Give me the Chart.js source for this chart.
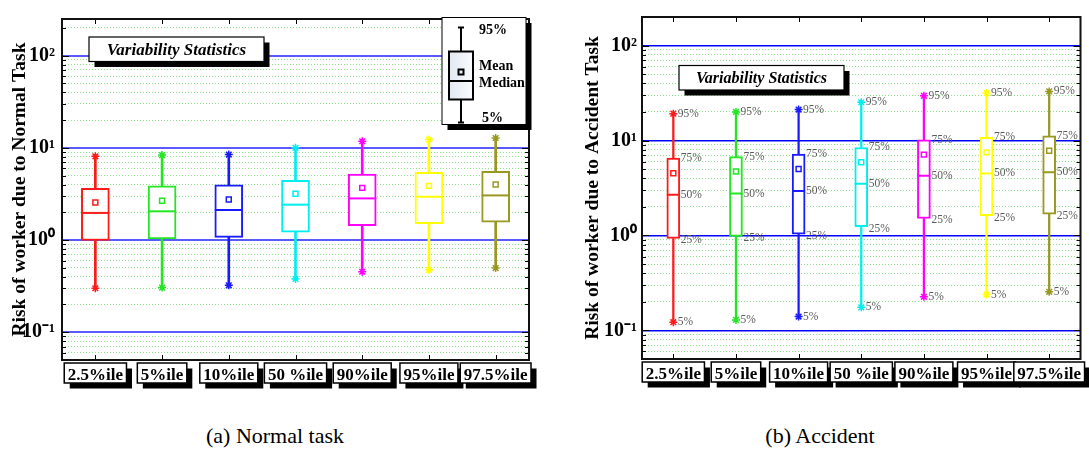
<!DOCTYPE html>
<html>
<head>
<meta charset="utf-8">
<script src="https://cdn.jsdelivr.net/npm/chart.js@4.4.1/dist/chart.umd.min.js"></script>
<style>
  html, body { margin: 0; padding: 0; background: #fff; }
  body { width: 1089px; height: 450px; position: relative; overflow: hidden; }
  .panel { position: absolute; top: 0; height: 400px; }
  .cap { position: absolute; top: 423px; font-family: "Liberation Serif", serif; font-size: 22px; color: #000; white-space: nowrap; transform: translateX(-50%); }
</style>
</head>
<body>
<div class="panel" style="left:0;width:545px"><canvas id="normalChart" width="545" height="400"></canvas></div>
<div class="panel" style="left:545px;width:544px"><canvas id="accidentChart" width="544" height="400"></canvas></div>
<div class="cap" style="left:275px">(a) Normal task</div>
<div class="cap" style="left:820px">(b) Accident</div>
<script>
// ---------- data ----------
const categories = ['2.5%ile', '5%ile', '10%ile', '50 %ile', '90%ile', '95%ile', '97.5%ile'];
const seriesColors = ['#ff1a1a', '#22e622', '#1a1aff', '#00eeee', '#ff00ff', '#ffff00', '#999922'];

// (a) Normal task
const normalP5     = [0.300, 0.305, 0.323, 0.378, 0.453, 0.476, 0.497];
const normalQ1     = [0.99, 1.03, 1.07, 1.22, 1.43, 1.51, 1.56];
const normalMedian = [1.97, 2.05, 2.12, 2.42, 2.83, 2.95, 3.05];
const normalMean   = [2.56, 2.67, 2.76, 3.18, 3.68, 3.87, 4.00];
const normalQ3     = [3.65, 3.87, 3.97, 4.45, 5.20, 5.43, 5.56];
const normalP95    = [8.1, 8.35, 8.47, 10.0, 11.8, 12.3, 12.8];

// (b) Accident
const accidentP5     = [0.122, 0.129, 0.140, 0.175, 0.226, 0.239, 0.255];
const accidentQ1     = [0.93, 0.98, 1.03, 1.24, 1.51, 1.62, 1.68];
const accidentMedian = [2.69, 2.76, 2.94, 3.50, 4.25, 4.50, 4.64];
const accidentMean   = [4.53, 4.72, 5.02, 5.90, 7.10, 7.50, 7.80];
const accidentQ3     = [6.54, 6.76, 7.20, 8.45, 10.2, 10.8, 11.2];
const accidentP95    = [19.2, 20.0, 21.2, 25.3, 29.6, 31.6, 32.9];

const yTickValues = [0.1, 1, 10, 100];
const yTickLabels = ['10\u207B\u00B9', '10\u2070', '10\u00B9', '10\u00B2'];
const annotationLabels = ['95%', '75%', '50%', '25%', '5%'];
const legendLabels = ['95%', 'Mean', 'Median', '5%'];
const boxTitle = 'Variability Statistics';

// ---------- helpers ----------
function isDecade(v) { const l = Math.log10(v); return Math.abs(l - Math.round(l)) < 1e-6; }
function mantissa(v) { return v / Math.pow(10, Math.floor(Math.log10(v) + 1e-9)); }
function line(ctx, x1, y1, x2, y2) { ctx.beginPath(); ctx.moveTo(x1, y1); ctx.lineTo(x2, y2); ctx.stroke(); }
function shadowBox(ctx, x, y, w, h, off, lw) {
  ctx.fillStyle = '#000'; ctx.fillRect(x + off, y + off, w, h);
  ctx.fillStyle = '#fff'; ctx.fillRect(x, y, w, h);
  ctx.strokeStyle = '#000'; ctx.lineWidth = lw; ctx.strokeRect(x, y, w, h);
}

function makeChart(id, d, cfg) {
  const datasets = [
    { type: 'bar', label: 'lower whisker', data: d.p5.map((v, i) => [v, d.q1[i]]),
      backgroundColor: seriesColors, borderWidth: 0, barThickness: cfg.whisker, grouped: false, order: 4 },
    { type: 'bar', label: 'upper whisker', data: d.q3.map((v, i) => [v, d.p95[i]]),
      backgroundColor: seriesColors, borderWidth: 0, barThickness: cfg.whisker, grouped: false, order: 4 },
    { type: 'bar', label: 'box', data: d.q1.map((v, i) => [v, d.q3[i]]),
      backgroundColor: '#ffffff', borderColor: seriesColors, borderWidth: 2, borderSkipped: false,
      barThickness: cfg.box, grouped: false, order: 3 },
    { type: 'line', label: 'median', data: d.median, showLine: false, pointStyle: 'line',
      pointRadius: cfg.box / 2, pointBorderColor: seriesColors, borderColor: seriesColors, pointBorderWidth: 2, order: 2 },
    { type: 'line', label: 'mean', data: d.mean, showLine: false, pointStyle: 'rect',
      pointRadius: 3.5, pointBorderColor: seriesColors, borderColor: seriesColors, pointBackgroundColor: '#ffffff', pointBorderWidth: 1.5, order: 1 },
    { type: 'line', label: '95%', data: d.p95, showLine: false, pointStyle: 'star',
      pointRadius: 4, pointBorderColor: seriesColors, borderColor: seriesColors, pointBorderWidth: 1.5, order: 0 },
    { type: 'line', label: '5%', data: d.p5, showLine: false, pointStyle: 'star',
      pointRadius: 4, pointBorderColor: seriesColors, borderColor: seriesColors, pointBorderWidth: 1.5, order: 0 }
  ];

  const decor = {
    id: 'decor',
    beforeDraw(chart) {
      const { ctx, chartArea: a, scales: { x: xs } } = chart;
      ctx.save();
      ctx.font = 'bold 17px "Liberation Serif"';
      categories.forEach((c, i) => {
        const cx = xs.getPixelForTick(i);
        const w = ctx.measureText(c).width + 7;
        shadowBox(ctx, cx - w / 2, a.bottom + 3, w, 20, 5.5, 1.5);
      });
      ctx.restore();
    },
    afterDraw(chart) {
      const { ctx, chartArea: a, scales: { x: xs, y: ys } } = chart;
      ctx.save();
      // inner ticks
      ctx.strokeStyle = '#000'; ctx.lineWidth = 1;
      ys.ticks.forEach(t => {
        const y = Math.round(ys.getPixelForValue(t.value)) + 0.5;
        if (y <= a.top + 2 || y >= a.bottom - 2) return;
        const len = isDecade(t.value) ? 7 : 4;
        line(ctx, a.left, y, a.left + len, y);
        line(ctx, a.right, y, a.right - len, y);
      });
      categories.forEach((c, i) => {
        const x = Math.round(xs.getPixelForTick(i)) + 0.5;
        line(ctx, x, a.top, x, a.top + 5);
        line(ctx, x, a.bottom, x, a.bottom - 5);
      });
      // frame
      ctx.lineWidth = 2; ctx.strokeStyle = '#111';
      ctx.strokeRect(a.left, a.top, a.right - a.left, a.bottom - a.top);

      // title box
      const b = cfg.titleBox;
      shadowBox(ctx, a.left + b.dx, a.top + b.dy, b.w, b.h, 5.5, 1.2);
      ctx.fillStyle = '#000';
      ctx.font = 'italic bold ' + b.size + 'px "Liberation Serif"';
      ctx.textAlign = 'center'; ctx.textBaseline = 'middle';
      ctx.fillText(boxTitle, a.left + b.dx + b.w / 2, a.top + b.dy + b.h / 2 + 1);

      // percentile annotations
      if (cfg.annotate) {
        ctx.font = '11.5px "Liberation Serif"';
        ctx.fillStyle = '#5a5a5a'; ctx.textAlign = 'left'; ctx.textBaseline = 'middle';
        const sets = [d.p95, d.q3, d.median, d.q1, d.p5];
        const offs = [4.5, 7.5, 7.5, 7.5, 4.5];
        categories.forEach((c, i) => {
          const cx = xs.getPixelForTick(i);
          sets.forEach((arr, k) => {
            ctx.fillText(annotationLabels[k], cx + offs[k], ys.getPixelForValue(arr[i]) + (k === 3 ? 2 : 0));
          });
        });
      }

      // legend glyph
      if (cfg.legend) {
        const x0 = a.right - 87, y0 = a.top - 1.5, w = 84, h = 107;
        shadowBox(ctx, x0, y0, w, h, 5.5, 1);
        const cx = x0 + 19;
        ctx.strokeStyle = '#000'; ctx.lineWidth = 2;
        line(ctx, cx, y0 + 10, cx, y0 + 34);
        line(ctx, cx - 3, y0 + 10, cx + 3, y0 + 10);
        line(ctx, cx, y0 + 82, cx, y0 + 105);
        line(ctx, cx - 3, y0 + 105, cx + 3, y0 + 105);
        const g = ctx.createLinearGradient(cx - 12, 0, cx + 12, 0);
        g.addColorStop(0, '#e2e7f2'); g.addColorStop(1, '#fafbfd');
        ctx.fillStyle = g; ctx.fillRect(cx - 12, y0 + 34, 24, 48);
        ctx.strokeRect(cx - 12, y0 + 34, 24, 48);
        line(ctx, cx - 12, y0 + 63.5, cx + 12, y0 + 63.5);
        ctx.strokeRect(cx - 2.5, y0 + 52, 5, 5);
        ctx.fillStyle = '#000'; ctx.font = 'bold 14px "Liberation Serif"';
        ctx.textAlign = 'left'; ctx.textBaseline = 'middle';
        ctx.fillText(legendLabels[0], x0 + 37, y0 + 13);
        ctx.fillText(legendLabels[1], x0 + 37, y0 + 48.5);
        ctx.fillText(legendLabels[2], x0 + 37, y0 + 65.5);
        ctx.fillText(legendLabels[3], x0 + 40, y0 + 100.5);
      }
      ctx.restore();
    }
  };

  return new Chart(document.getElementById(id), {
    data: { labels: categories, datasets },
    options: {
      responsive: false, animation: false, events: [], devicePixelRatio: 1,
      layout: { padding: { top: cfg.top, right: cfg.right, left: 0, bottom: 0 } },
      plugins: { legend: { display: false }, tooltip: { enabled: false } },
      scales: {
        x: {
          type: 'category', offset: true,
          grid: { display: false, drawTicks: false }, border: { display: false },
          ticks: { font: { family: 'Liberation Serif', size: 17, weight: 'bold' }, color: '#000',
                   padding: 5, maxRotation: 0, autoSkip: false },
          afterFit: s => { s.height = cfg.xh; }
        },
        y: {
          type: 'logarithmic', min: 0.05, max: cfg.ymax,
          afterFit: s => { s.width = cfg.yw; },
          afterBuildTicks: s => { s.ticks = s.ticks.filter(t => Math.abs(mantissa(t.value) - 1.5) > 1e-6); },
          title: { display: true, text: cfg.ytitle, color: '#000',
                   font: { family: 'Liberation Serif', size: 19.5, weight: 'bold' },
                   padding: { top: cfg.titlePad, bottom: 0 } },
          ticks: {
            autoSkip: false, color: '#000', padding: cfg.tickPad,
            font: { family: 'Liberation Serif', size: 20, weight: 'bold' },
            callback: v => { const i = yTickValues.findIndex(t => Math.abs(t - v) / t < 1e-6); return i >= 0 ? yTickLabels[i] : ''; }
          },
          grid: {
            drawTicks: false,
            color: c => {
              if (!c.tick) return 'rgba(0,0,0,0)';
              const v = c.tick.value;
              if (Math.abs(v - 0.05) < 1e-9 || Math.abs(v - cfg.ymax) < 1e-9) return 'rgba(0,0,0,0)';
              return isDecade(v) ? cfg.majorColor : '#8fe38f';
            },
            lineWidth: c => (c.tick && isDecade(c.tick.value)) ? cfg.majorWidth : 1
          },
          border: {
            display: false,
            dash: c => (c.tick && !isDecade(c.tick.value)) ? [1, 2] : []
          }
        }
      }
    },
    plugins: [decor]
  });
}

makeChart('normalChart',
  { p5: normalP5, q1: normalQ1, median: normalMedian, mean: normalMean, q3: normalQ3, p95: normalP95 },
  { box: 28, whisker: 2, top: 15, right: 15, xh: 40, yw: 62, ymax: 250, titlePad: 8, tickPad: 7,
    ytitle: 'Risk of worker due to Normal Task', majorColor: '#5a5aff', majorWidth: 2,
    titleBox: { dx: 27, dy: 18, w: 175, h: 24.5, size: 17 }, annotate: false, legend: true });

makeChart('accidentChart',
  { p5: accidentP5, q1: accidentQ1, median: accidentMedian, mean: accidentMean, q3: accidentQ3, p95: accidentP95 },
  { box: 13, whisker: 1.6, top: 13, right: 7, xh: 41, yw: 97, ymax: 200, titlePad: 36, tickPad: 5,
    ytitle: 'Risk of worker due to Accident Task', majorColor: '#0000ff', majorWidth: 1.5,
    titleBox: { dx: 37, dy: 48.5, w: 165, h: 24.5, size: 16 }, annotate: true, legend: false });
</script>
</body>
</html>
